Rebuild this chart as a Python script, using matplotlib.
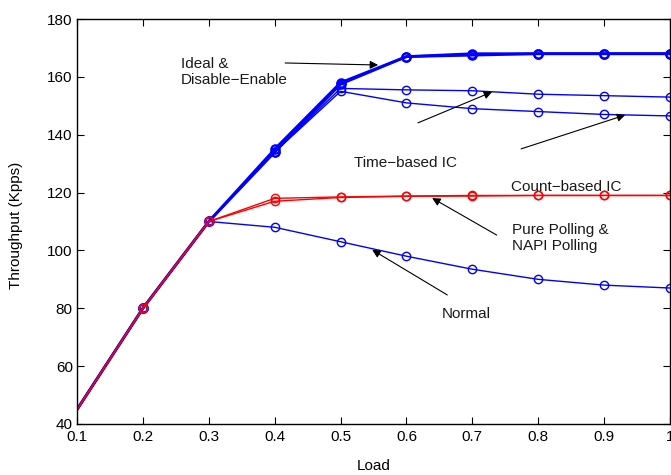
"""Throughput vs. load for the interrupt-handling schemes (MATLAB-style figure)."""

import matplotlib
matplotlib.use("Agg")
import matplotlib.pyplot as plt

# --- Data ---
load = [0.1, 0.2, 0.3, 0.4, 0.5, 0.6, 0.7, 0.8, 0.9, 1.0]

ideal = [45, 80, 110, 135, 158, 167, 168, 168, 168, 168]
disable_enable = [45, 80, 110, 134, 157.5, 167, 167.5, 168, 168, 168]
time_ic = [45, 80, 110, 134, 156, 155.5, 155.2, 154, 153.5, 153]
count_ic = [45, 80, 110, 134, 155, 151, 149, 148, 147, 146.5]
normal = [45, 80, 110, 108, 103, 98, 93.5, 90, 88, 87]
pure_polling = [45, 80, 110, 118, 118.5, 118.8, 119, 119, 119, 119]
napi_polling = [45, 80, 110, 117, 118.3, 118.7, 118.8, 119, 119, 119]

x_ticks = [0.1, 0.2, 0.3, 0.4, 0.5, 0.6, 0.7, 0.8, 0.9, 1.0]
x_tick_labels = ["0.1", "0.2", "0.3", "0.4", "0.5", "0.6", "0.7", "0.8", "0.9", "1"]
y_ticks = [40, 60, 80, 100, 120, 140, 160, 180]

BLUE = "#0000FF"
RED = "#FF0000"
FONT = "Liberation Sans"
FS = 11

plt.rcParams["font.family"] = FONT


def main():
    fig = plt.figure(figsize=(6.71, 4.75), dpi=100)
    ax = fig.add_axes([0.1148, 0.1074, 0.8837, 0.8526])

    mk = dict(marker="o", markerfacecolor="none", markersize=6,
              markeredgewidth=1.0, markevery=slice(1, None))

    # blue series
    ax.plot(load, normal, color=BLUE, lw=1.0, markeredgecolor=BLUE, **mk)
    ax.plot(load, count_ic, color=BLUE, lw=1.0, markeredgecolor=BLUE, **mk)
    ax.plot(load, time_ic, color=BLUE, lw=1.0, markeredgecolor=BLUE, **mk)
    ax.plot(load, disable_enable, color=BLUE, lw=2.0, markeredgecolor=BLUE,
            **{**mk, "markeredgewidth": 1.6})
    ax.plot(load, ideal, color=BLUE, lw=2.0, markeredgecolor=BLUE,
            **{**mk, "markeredgewidth": 1.6})

    # red series (on top)
    ax.plot(load, napi_polling, color=RED, lw=1.0, markeredgecolor=RED, **mk)
    ax.plot(load, pure_polling, color=RED, lw=1.0, markeredgecolor=RED, **mk)

    ax.set_xlim(0.1, 1.0)
    ax.set_ylim(40, 180)
    ax.set_xticks(x_ticks)
    ax.set_xticklabels(x_tick_labels)
    ax.set_yticks(y_ticks)
    ax.tick_params(direction="in", top=True, right=True, length=5,
                   width=0.8, labelsize=FS)
    ax.tick_params(axis="x", pad=4)
    ax.tick_params(axis="y", pad=3)
    for sp in ax.spines.values():
        sp.set_linewidth(1.0)

    ax.set_xlabel("Load", fontsize=FS)
    ax.set_ylabel("Throughput (Kpps)", fontsize=FS)
    ax.xaxis.set_label_coords(0.5, -0.086)
    ax.yaxis.set_label_coords(-0.091, 0.49)

    # --- annotations ---
    arrow = dict(arrowstyle="-|>", color="black", lw=0.8,
                 mutation_scale=12, shrinkA=0, shrinkB=0)
    tkw = dict(fontsize=FS, color="#1a1a1a")

    ax.text(0.258, 161.7, "Ideal &\nDisable\u2212Enable", ha="left",
            va="center", linespacing=1.25, **tkw)
    ax.annotate("", xy=(0.557, 164.1), xytext=(0.416, 164.8),
                arrowprops=arrow)

    ax.text(0.599, 130.2, "Time\u2212based IC", ha="center", va="center", **tkw)
    ax.annotate("", xy=(0.730, 154.8), xytext=(0.6175, 144.1),
                arrowprops=arrow)

    ax.text(0.842, 121.9, "Count\u2212based IC", ha="center", va="center", **tkw)
    ax.annotate("", xy=(0.932, 146.8), xytext=(0.774, 135.1),
                arrowprops=arrow)

    ax.text(0.760, 104.3, "Pure Polling &\nNAPI Polling", ha="left",
            va="center", linespacing=1.25, **tkw)
    ax.annotate("", xy=(0.639, 118.1), xytext=(0.737, 105.3),
                arrowprops=arrow)

    ax.text(0.690, 78.0, "Normal", ha="center", va="center", **tkw)
    ax.annotate("", xy=(0.548, 100.2), xytext=(0.662, 84.6),
                arrowprops=arrow)

    fig.savefig("out.png", dpi=100, facecolor="white")
    plt.close(fig)


if __name__ == "__main__":
    main()
